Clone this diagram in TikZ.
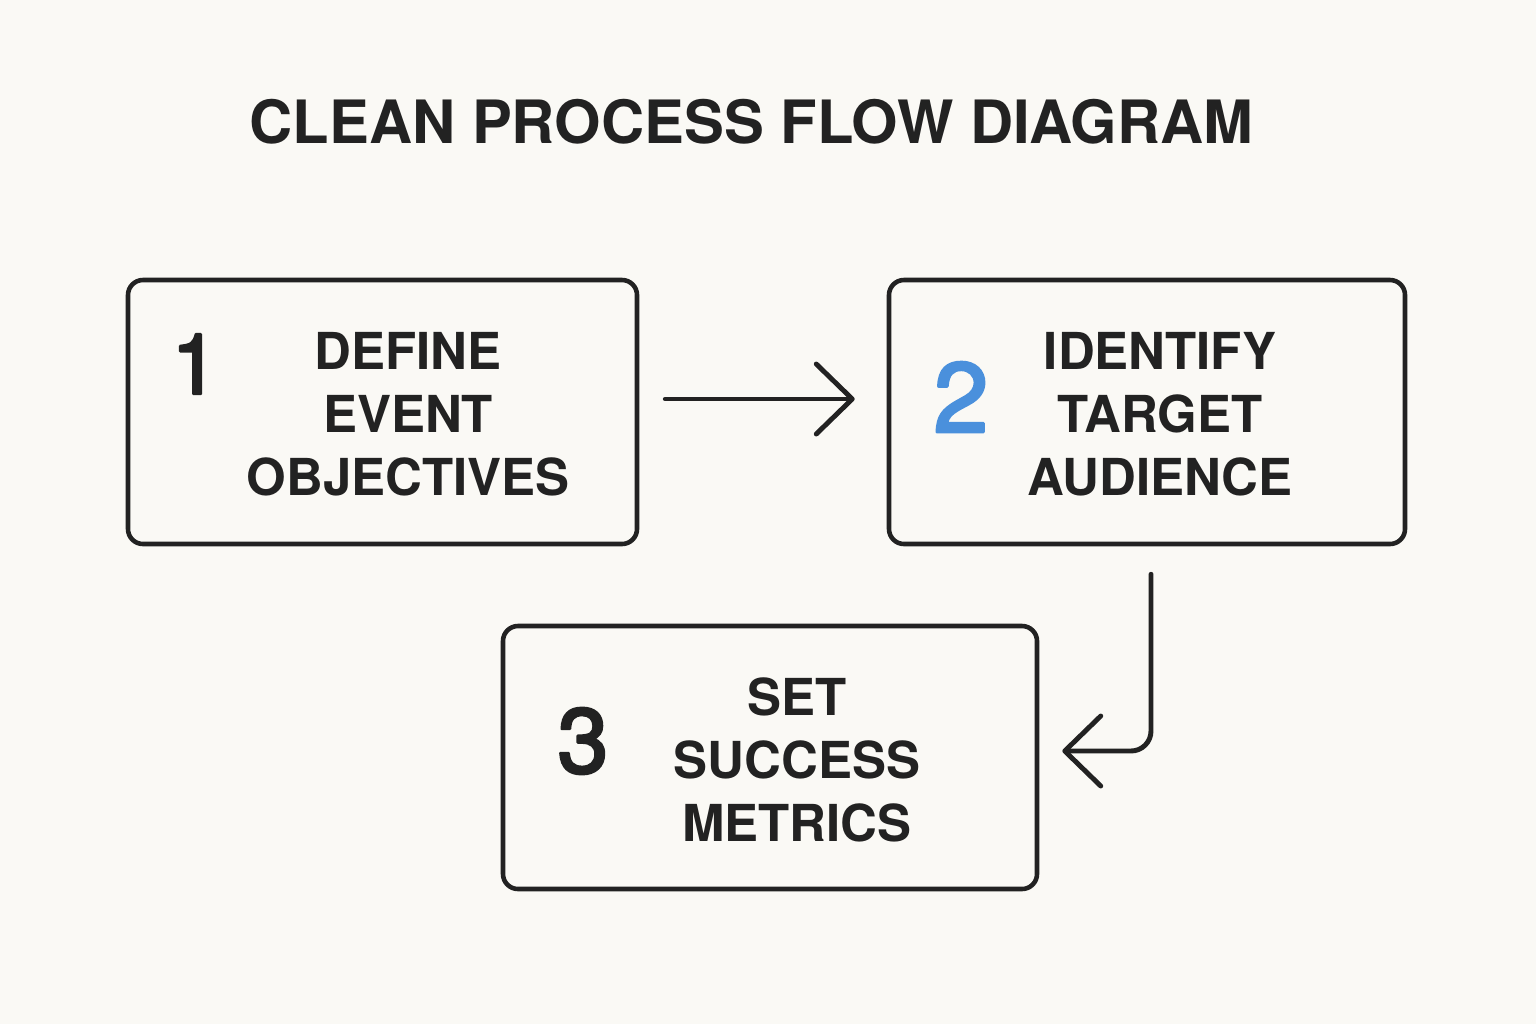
\documentclass[tikz,border=0pt]{standalone}
\usepackage{fontspec}
\setmainfont{TeX Gyre Heros}
\newfontface\numface{TeX Gyre Heros}[FakeBold=3]
\usetikzlibrary{arrows.meta}
\definecolor{ink}{HTML}{222222}
\definecolor{paper}{HTML}{FAF9F5}
\definecolor{numblue}{HTML}{4A90DC}
\tikzset{
  stepbox/.style={draw=ink, line width=1.3pt, rounded corners=0.15cm, minimum height=2.64cm, inner sep=0pt},
  steptext/.style={text=ink, font=\fontsize{14.5}{18}\selectfont\bfseries, align=center, inner sep=0pt},
  stepnum/.style={text=ink, inner sep=0pt},
  flow/.style={draw=ink, line width=1.4pt, -{Straight Barb[length=0.36cm,width=0.70cm,round]}},
}
\begin{document}
\begin{tikzpicture}[x=1cm, y=-1cm, line join=round, line cap=round]
	\fill[paper] (0,0) rectangle (15.36,10.24); % page
	\node (title) at (7.515,1.215) [text=ink, inner sep=0pt, font=\fontsize{17}{20}\selectfont\bfseries] {CLEAN PROCESS FLOW DIAGRAM};
	% boxes
	\node (b1) at (3.825,4.12) [stepbox, minimum width=5.09cm] {};
	\node (b2) at (11.47,4.12) [stepbox, minimum width=5.16cm] {};
	\node (b3) at (7.70,7.575) [stepbox, minimum width=5.34cm, minimum height=2.63cm] {};
	% numbers
	\node (n1) at (1.95,3.64) [stepnum, font=\numface\fontsize{24}{24}\selectfont] {1};
	\node (n2) at (9.61,3.97) [stepnum, text=numblue, font=\numface\fontsize{28}{28}\selectfont] {2};
	\node (n3) at (5.83,7.41) [stepnum, font=\numface\fontsize{26}{26}\selectfont] {3};
	% texts
	\node (t1) at (4.08,4.14) [steptext] {DEFINE\\EVENT\\OBJECTIVES};
	\node (t2) at (11.60,4.14) [steptext] {IDENTIFY\\TARGET\\AUDIENCE};
	\node (t3) at (7.97,7.60) [steptext] {SET\\SUCCESS\\METRICS};
	% arrows
	\draw[flow, shorten <=0.26cm, shorten >=0.32cm] ([yshift=0.13cm]b1.east) -- ([yshift=0.13cm]b2.west);
	\draw[flow, rounded corners=0.2cm, shorten <=0.28cm, shorten >=0.23cm] ([xshift=0.04cm]b2.south) |- ([yshift=0.065cm]b3.east);
\end{tikzpicture}
\end{document}
